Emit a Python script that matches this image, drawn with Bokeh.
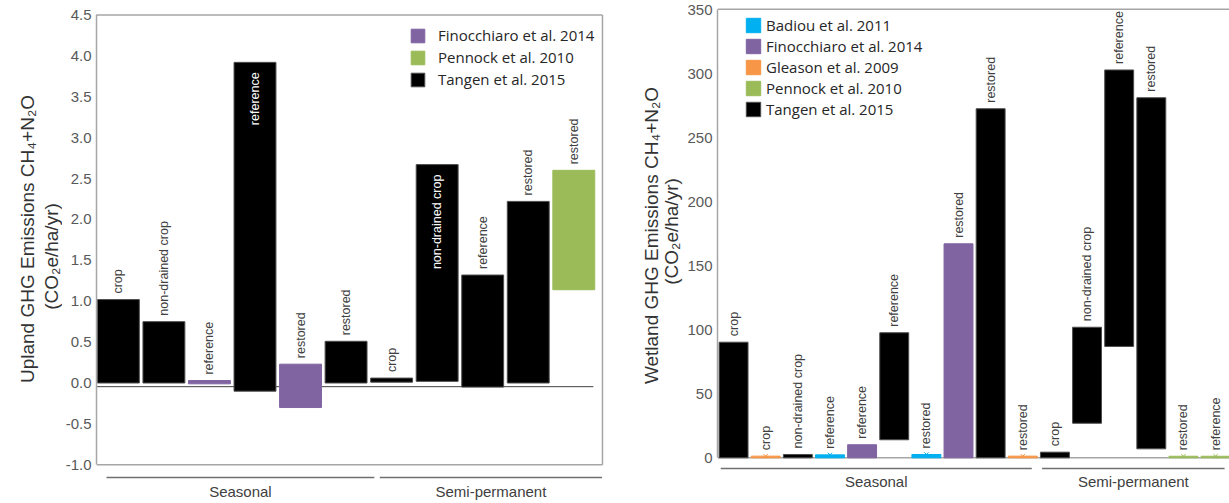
import math
from bokeh.plotting import figure
from bokeh.models import ColumnDataSource, FixedTicker, Legend, LegendItem, Range1d
from bokeh.layouts import row
from bokeh.embed import file_html
from bokeh.resources import INLINE
from bokeh.core.properties import value

# ---------------- data: upland panel ----------------
up_labels = ["crop", "non-drained crop", "reference", "reference", "restored", "restored",
             "crop", "non-drained crop", "reference", "restored", "restored"]
up_study = ["Tangen et al. 2015", "Tangen et al. 2015", "Finocchiaro et al. 2014", "Tangen et al. 2015",
            "Finocchiaro et al. 2014", "Tangen et al. 2015", "Tangen et al. 2015", "Tangen et al. 2015",
            "Tangen et al. 2015", "Tangen et al. 2015", "Pennock et al. 2010"]
up_top = [1.02, 0.75, 0.03, 3.92, 0.23, 0.51, 0.06, 2.67, 1.32, 2.22, 2.60]
up_bottom = [0.00, 0.00, -0.01, -0.10, -0.30, 0.00, 0.01, 0.02, -0.05, 0.00, 1.14]
up_group = ["Seasonal"] * 6 + ["Semi-permanent"] * 5
up_inside = [False, False, False, True, False, False, False, True, False, False, False]
up_mark = [False] * 11
up_ticks = [-1.0, -0.5, 0.0, 0.5, 1.0, 1.5, 2.0, 2.5, 3.0, 3.5, 4.0, 4.5]
up_tick_text = ["-1.0", "-0.5", "0.0", "0.5", "1.0", "1.5", "2.0", "2.5", "3.0", "3.5", "4.0", "4.5"]
up_legend = ["Finocchiaro et al. 2014", "Pennock et al. 2010", "Tangen et al. 2015"]
up_title = ["Upland GHG Emissions CH\u2084+N\u2082O", "(CO\u2082e/ha/yr)"]

# ---------------- data: wetland panel ----------------
wet_labels = ["crop", "crop", "non-drained crop", "reference", "reference", "reference",
              "restored", "restored", "restored", "restored",
              "crop", "non-drained crop", "reference", "restored", "restored", "reference"]
wet_study = ["Tangen et al. 2015", "Gleason et al. 2009", "Tangen et al. 2015", "Badiou et al. 2011",
             "Finocchiaro et al. 2014", "Tangen et al. 2015", "Badiou et al. 2011",
             "Finocchiaro et al. 2014", "Tangen et al. 2015", "Gleason et al. 2009",
             "Tangen et al. 2015", "Tangen et al. 2015", "Tangen et al. 2015", "Tangen et al. 2015",
             "Pennock et al. 2010", "Pennock et al. 2010"]
wet_top = [90.3, 1.3, 2.6, 2.3, 10.2, 97.7, 2.6, 167.2, 272.7, 1.3, 4.4, 102.0, 303.0, 281.3, 1.2, 1.2]
wet_bottom = [0, 0, 0, 0, 0, 14.1, 0, 0, 0, 0, 0, 27.0, 87.0, 7.0, 0, 0]
wet_group = ["Seasonal"] * 10 + ["Semi-permanent"] * 6
wet_inside = [False] * 16
wet_mark = [False, True, False, True, False, False, True, False, False, True,
            False, False, False, False, True, True]
wet_ticks = [0, 50, 100, 150, 200, 250, 300, 350]
wet_tick_text = ["0", "50", "100", "150", "200", "250", "300", "350"]
wet_legend = ["Badiou et al. 2011", "Finocchiaro et al. 2014", "Gleason et al. 2009",
              "Pennock et al. 2010", "Tangen et al. 2015"]
wet_title = ["Wetland GHG Emissions CH\u2084+N\u2082O", "(CO\u2082e/ha/yr)"]

# ---------------- styles ----------------
COLORS = {
    "Badiou et al. 2011": "#00b0f0",
    "Finocchiaro et al. 2014": "#8064a2",
    "Gleason et al. 2009": "#f79646",
    "Pennock et al. 2010": "#9bbb59",
    "Tangen et al. 2015": "#000000",
}
AXIS_GRAY = "#a6a6a6"
SANS = "Liberation Sans"
H = 503


def title_fig(width, lines, places):
    p = figure(width=width, height=H, x_range=Range1d(0, width), y_range=Range1d(0, H),
               x_axis_location=None, y_axis_location=None, title=None,
               toolbar_location=None, output_backend="svg", min_border=0,
               outline_line_color=None)
    p.grid.visible = False
    for t, (bx, cy) in zip(lines, places):
        p.text(x=[bx], y=[H - cy], text=[t], angle=math.pi / 2, text_align="center",
               text_baseline="alphabetic", text_font=value(SANS), text_font_size="19px",
               text_color="#333333")
    return p


def build(labels, study, top, bottom, groups, inside, marks, ticks, tick_text, legend_order, cfg):
    n = len(labels)
    xs = list(range(n))
    p = figure(width=cfg["width"], height=H,
               x_range=Range1d(*cfg["xr"]), y_range=Range1d(*cfg["yr"]),
               x_axis_location=None, y_axis_location="left", title=None,
               toolbar_location=None, output_backend="svg",
               min_border_left=cfg["border"], min_border_right=0,
               min_border_top=0, min_border_bottom=0, outline_line_color=None)
    p.grid.visible = False
    ax = p.yaxis[0]
    ax.ticker = FixedTicker(ticks=ticks)
    ax.major_label_overrides = {t: s for t, s in zip(ticks, tick_text)}
    ax.bounds = (ticks[0], ticks[-1])
    ax.axis_line_color = AXIS_GRAY
    ax.axis_line_width = 1.5
    ax.major_tick_line_color = None
    ax.minor_tick_line_color = None
    ax.major_tick_out = 0
    ax.major_tick_in = 0
    ax.minor_tick_out = 0
    ax.minor_tick_in = 0
    ax.major_label_standoff = cfg["standoff"]
    ax.major_label_text_font = SANS
    ax.major_label_text_font_size = "15px"
    ax.major_label_text_color = "#595959"

    x0, x1 = cfg["xr"]
    for (a, b, c, d) in cfg["frame"]:
        p.segment(x0=[a], y0=[b], x1=[c], y1=[d], line_color=AXIS_GRAY, line_width=1.5)
    zl = cfg["zero"]
    p.segment(x0=[x0], y0=[zl[0]], x1=[n - 1 + zl[1]], y1=[zl[0]],
              line_color=zl[2], line_width=zl[3])

    items = {}
    for s in legend_order:
        idx = [i for i in range(n) if study[i] == s]
        src = ColumnDataSource(dict(x=[xs[i] for i in idx], top=[top[i] for i in idx],
                                    bottom=[bottom[i] for i in idx]))
        col = COLORS[s]
        black = col == "#000000"
        r = p.vbar(x="x", width=cfg["bw"], top="top", bottom="bottom", source=src,
                   fill_color=col, line_color="#4d4d4d" if black else col, line_width=1)
        items[s] = r

    mi = [i for i in range(n) if marks[i]]
    if mi:
        p.scatter(x=[xs[i] for i in mi], y=[top[i] for i in mi], marker="x", size=6,
                  line_color=[COLORS[study[i]] for i in mi], line_width=1)

    out_i = [i for i in range(n) if not inside[i]]
    in_i = [i for i in range(n) if inside[i]]
    p.text(x=[xs[i] for i in out_i], y=[top[i] for i in out_i], text=[labels[i] for i in out_i],
           angle=math.pi / 2, text_align="left", text_baseline="middle", y_offset=-6,
           text_font=value(SANS), text_font_size="12.5px", text_color="#404040")
    if in_i:
        p.text(x=[xs[i] for i in in_i], y=[top[i] for i in in_i], text=[labels[i] for i in in_i],
               angle=math.pi / 2, text_align="right", text_baseline="middle", y_offset=10,
               text_font=value(SANS), text_font_size="12.5px", text_color="white")

    gy, gly, pad_l, pad_r = cfg["groups"]
    seen = []
    for g in groups:
        if g not in seen:
            seen.append(g)
    for g in seen:
        gi = [i for i in range(n) if groups[i] == g]
        a, b = gi[0] - pad_l, gi[-1] + pad_r
        p.segment(x0=[a], y0=[gy], x1=[b], y1=[gy], line_color="#707070", line_width=1.5)
        p.text(x=[(a + b) / 2], y=[gly], text=[g], text_align="center", text_baseline="middle",
               text_font=value(SANS), text_font_size="15px", text_color="#404040")

    leg = cfg["legend"]
    legend = Legend(items=[LegendItem(label=s, renderers=[items[s]]) for s in legend_order],
                    location=leg["loc"], orientation="vertical",
                    glyph_width=leg["glyph"], glyph_height=leg["glyph"], label_height=leg["glyph"],
                    spacing=leg["spacing"], padding=0, margin=0, label_standoff=leg["standoff"],
                    border_line_color=None, background_fill_alpha=0,
                    label_text_font="Open Sans", label_text_font_size="15px",
                    label_text_color="#262626")
    p.add_layout(legend)
    return p


left_cfg = dict(
    width=550, border=31, standoff=5,
    xr=(-0.48, 10.85), yr=((382.5 - H) / 81.8, 382.5 / 81.8), bw=0.92,
    frame=[(-0.48, 4.5, 10.63, 4.5), (10.63, -1.0, 10.63, 4.5), (-0.48, -1.0, 10.63, -1.0)],
    zero=(-0.045, 0.43, "#404040", 1),
    groups=(-1.155, -1.33, 0.26, 0.62),
    legend=dict(loc=(313, 414), glyph=17, spacing=2, standoff=12),
)
right_cfg = dict(
    width=545, border=31, standoff=5,
    xr=(-0.5, 15.433), yr=((457.3 - H) / 1.28, 457.3 / 1.28), bw=0.9,
    frame=[(-0.5, 350.5, 15.433, 350.5)],
    zero=(0, 1.0, AXIS_GRAY, 1.5),
    groups=(-8.4, -18.5, 0.4, 0.28),
    legend=dict(loc=(27, 384), glyph=18, spacing=1, standoff=4),
)

t1 = title_fig(62, up_title, [(27, 238.5), (51, 256)])
p1 = build(up_labels, up_study, up_top, up_bottom, up_group, up_inside, up_mark,
           up_ticks, up_tick_text, up_legend, left_cfg)
t2 = title_fig(72, wet_title, [(39, 235), (59, 231)])
p2 = build(wet_labels, wet_study, wet_top, wet_bottom, wet_group, wet_inside, wet_mark,
           wet_ticks, wet_tick_text, wet_legend, right_cfg)

layout = row(t1, p1, t2, p2, spacing=0)
open("out.html", "w").write(file_html(layout, INLINE))
